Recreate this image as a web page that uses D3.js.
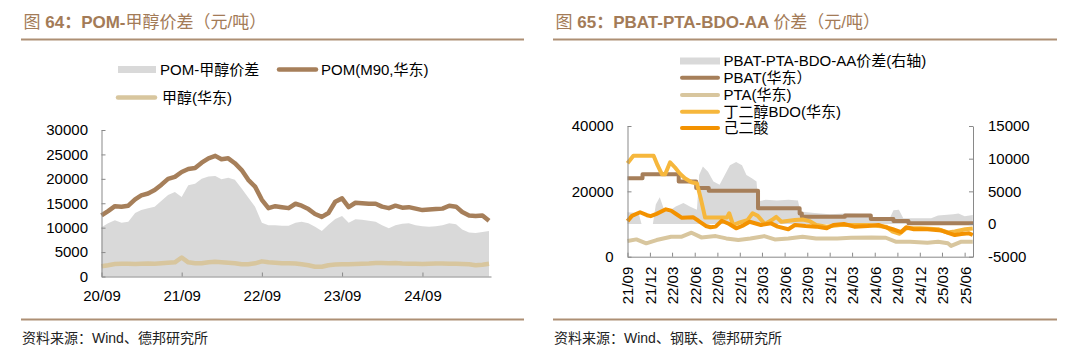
<!DOCTYPE html>
<html>
<head>
<meta charset="utf-8">
<script src="https://cdn.jsdelivr.net/npm/d3@7"></script>
<style>
body { margin: 0; background: #fff; }
svg text { font-family: "Liberation Sans", Arial, "Noto Sans CJK SC", sans-serif; }
</style>
</head>
<body>
<script>
width = 1080
height = 363

// ---- fig 64: POM - methanol, monthly 2020/09 .. 2025/07
const pomMonths = d3.timeMonth.range(new Date(2020, 8, 1), new Date(2025, 7, 1));
const pomPrice = [12500, 13400, 14400, 14300, 14500, 15800, 16600, 17000, 17700, 18800,
                  20000, 20400, 21400, 22000, 22200, 23300, 24200, 24700, 24000, 24200,
                  23200, 21800, 19800, 18400, 15700, 14000, 14400, 14200, 14000, 14900,
                  14500, 13800, 12800, 12200, 13000, 15300, 16000, 14200, 15100, 15000,
                  14900, 14900, 14300, 14000, 14500, 14100, 14200, 13900, 13600, 13700,
                  13800, 13900, 14500, 14300, 13200, 12500, 12400, 12500, 11400];
const methanolPrice = [2100, 2300, 2550, 2600, 2600, 2550, 2600, 2650, 2600, 2700,
                       2800, 2900, 3900, 2900, 2700, 2700, 2900, 3000, 2900, 2800,
                       2700, 2500, 2500, 2700, 3100, 2900, 2800, 2700, 2700, 2650,
                       2500, 2300, 2000, 2000, 2300, 2450, 2500, 2500, 2550, 2600,
                       2650, 2750, 2750, 2700, 2750, 2650, 2600, 2600, 2550, 2600,
                       2650, 2650, 2600, 2600, 2550, 2500, 2300, 2400, 2600];
const pomSpread = [10100, 10900, 11500, 11000, 11200, 13000, 13600, 14000, 14300, 15500,
                   16700, 17300, 16300, 18700, 19000, 20000, 20500, 20600, 19900, 20200,
                   19800, 18000, 16200, 14300, 11000, 10500, 10500, 10400, 10400, 11000,
                   11200, 10900, 10200, 9300, 10600, 11800, 12400, 11000, 11700, 11600,
                   11400, 11200, 10500, 9900, 10500, 10800, 10900, 10500, 10300, 10200,
                   10300, 10500, 10900, 10700, 9600, 9000, 8900, 9100, 9300];
const pomYTicks = [0, 5000, 10000, 15000, 20000, 25000, 30000];
const pomXTicks = ["20/09", "21/09", "22/09", "23/09", "24/09"];

// ---- fig 65: PBAT chain
const pbatDates = ["2021-09-01", "2021-11-01", "2022-03-28", "2022-06-07", "2022-07-28", "2023-02-13",
                   "2023-08-01", "2023-08-10", "2024-02-01", "2024-05-16", "2024-08-16", "2024-10-16", "2025-07-05"];
const pbatPrice = [24000, 25200, 23000, 21000, 20200, 14800, 13200, 12200, 12600, 11500, 10900, 10200, 10200];

const ptaDates = ["2021-09-01", "2021-10-07", "2021-11-16", "2021-12-28", "2022-02-25", "2022-04-07", "2022-05-19",
                  "2022-06-28", "2022-08-25", "2022-10-07", "2022-11-25", "2023-01-13", "2023-03-10", "2023-04-22",
                  "2023-06-16", "2023-08-13", "2023-10-07", "2024-01-01", "2024-02-25", "2024-05-19", "2024-07-16",
                  "2024-08-25", "2024-10-22", "2025-01-01", "2025-02-13", "2025-03-25", "2025-04-07", "2025-05-19", "2025-07-04"];
const ptaPrice = [4800, 5300, 4100, 5100, 6100, 6100, 7350, 5900, 6300, 5600, 5100, 5600, 6300, 5300,
                  5600, 6100, 5600, 5600, 5800, 5900, 5800, 4600, 4600, 4300, 4600, 4100, 3300, 4600, 4600];

const bdoDates = ["2021-09-01", "2021-09-25", "2021-12-16", "2022-01-01", "2022-01-19", "2022-02-01", "2022-02-21",
                  "2022-03-13", "2022-04-01", "2022-04-22", "2022-05-19", "2022-06-10", "2022-06-25", "2022-07-13",
                  "2022-10-10", "2022-10-19", "2022-11-04", "2022-12-01", "2023-01-01", "2023-01-22", "2023-02-12",
                  "2023-03-13", "2023-04-10", "2023-04-28", "2023-05-19", "2023-07-13", "2023-08-13", "2023-09-10",
                  "2023-10-07", "2023-11-19", "2024-01-13", "2024-05-04", "2024-07-16", "2024-08-13", "2024-09-10",
                  "2024-10-07", "2024-12-04", "2025-02-13", "2025-03-25", "2025-04-22", "2025-06-04", "2025-07-04"];
const bdoPrice = [28600, 30900, 30900, 28000, 25200, 25200, 28900, 27300, 25500, 24000, 22800, 22400, 18000, 12000,
                  12000, 13300, 9700, 10500, 11200, 13300, 12500, 10000, 11200, 12200, 10700, 11200, 11400, 10900,
                  9700, 9200, 9700, 9700, 9200, 7650, 7000, 8700, 8700, 8400, 7400, 7700, 8400, 8600];

const aaDates = ["2021-09-01", "2021-09-19", "2021-10-22", "2021-11-19", "2021-12-04", "2021-12-28", "2022-02-04",
                 "2022-02-25", "2022-03-19", "2022-04-10", "2022-05-25", "2022-06-16", "2022-07-16", "2022-08-04",
                 "2022-08-25", "2022-09-19", "2022-10-19", "2022-11-16", "2022-12-16", "2023-01-10", "2023-02-25",
                 "2023-04-07", "2023-05-04", "2023-06-16", "2023-07-13", "2023-08-25", "2023-10-07", "2023-11-19",
                 "2023-12-16", "2024-01-28", "2024-03-10", "2024-05-04", "2024-06-16", "2024-07-16", "2024-08-13",
                 "2024-09-16", "2024-10-07", "2024-11-07", "2025-01-01", "2025-02-28", "2025-04-01", "2025-04-22",
                 "2025-05-19", "2025-06-19", "2025-07-04"];
const aaPrice = [10900, 12500, 13600, 12700, 12400, 13100, 14500, 14100, 13000, 11900, 12100, 11000, 9400, 9000,
                 9200, 11000, 10000, 8700, 9600, 10700, 9700, 10200, 9200, 8400, 9700, 9400, 9200, 8700,
                 9700, 10000, 9200, 9400, 9700, 9000, 8400, 7550, 9000, 8400, 8400, 8000, 7150, 6630,
                 6940, 7150, 6630];

const spreadDates = ["2021-09-01", "2021-10-16", "2021-10-28", "2021-12-13", "2021-12-25", "2022-01-10", "2022-01-25",
                     "2022-02-16", "2022-03-16", "2022-04-16", "2022-05-16", "2022-06-10", "2022-06-19", "2022-07-04",
                     "2022-07-25", "2022-08-16", "2022-09-10", "2022-10-01", "2022-10-22", "2022-11-16", "2022-12-10",
                     "2022-12-28", "2023-01-19", "2023-02-07", "2023-02-13", "2023-03-16", "2023-05-01", "2023-06-16",
                     "2023-07-25", "2023-08-04", "2023-10-01", "2023-12-01", "2024-02-01", "2024-05-10", "2024-05-19",
                     "2024-08-01", "2024-08-16", "2024-09-07", "2024-09-25", "2025-01-16", "2025-02-13", "2025-04-16",
                     "2025-05-07", "2025-06-01", "2025-07-04"];
const spreadValue = [1800, 1700, 0, 0, 3000, 4100, 2500, 2000, 2700, 3200, 2600, 2200, 7500, 8800,
                     8000, 6500, 6000, 7500, 9000, 9500, 9000, 7500, 7000, 6500, 3500, 3700, 3600, 3700,
                     3600, 1900, 1700, 1500, 1600, 1500, 900, 900, 2100, 2200, 900, 900, 1300, 1500,
                     1600, 1200, 1400];
const pbatLeftTicks = [0, 20000, 40000];
const pbatRightTicks = [-5000, 0, 5000, 10000, 15000];
const pbatXTicks = ["21/09", "21/12", "22/03", "22/06", "22/09", "22/12", "23/03", "23/06",
                    "23/09", "23/12", "24/03", "24/06", "24/09", "24/12", "25/03", "25/06"];

const brown = "#a67f5a", beige = "#d8c69e", gray = "#d9d9d9", bdoCol = "#f6b73c", aaCol = "#f39200";
const titleCol = "#a37b57", ruleCol = "#ad8f74", axisCol = "#898989";

const parseDay = d3.timeParse("%Y-%m-%d");
const parseTick = d3.timeParse("%y/%m");

const svg = d3.select("body")
  .append("svg")
    .attr("width", width)
    .attr("height", height);

// titles, rules, sources
function header(x0, x1, parts) {
  const t = svg.append("text")
      .attr("x", x0 + 2.5)
      .attr("y", 28)
      .attr("fill", titleCol)
      .attr("font-size", 17);
  parts.forEach(p => t.append("tspan").attr("font-weight", p[1] ? "bold" : "normal").text(p[0]));
  svg.append("line")
      .attr("x1", x0).attr("x2", x1)
      .attr("y1", 39.5).attr("y2", 39.5)
      .attr("stroke", ruleCol).attr("stroke-width", 2);
  svg.append("line")
      .attr("x1", x0).attr("x2", x1)
      .attr("y1", 319.5).attr("y2", 319.5)
      .attr("stroke", ruleCol).attr("stroke-width", 2);
}
header(21, 524, [["图 ", false], ["64：POM-", true], ["甲醇价差（元/吨）", false]]);
header(553, 1057, [["图 ", false], ["65：PBAT-PTA-BDO-AA ", true], ["价差（元/吨）", false]]);

svg.append("text").attr("x", 22).attr("y", 342.5).attr("font-size", 14).attr("fill", "#222")
   .text("资料来源：Wind、德邦研究所");
svg.append("text").attr("x", 554).attr("y", 342.5).attr("font-size", 14).attr("fill", "#222")
   .text("资料来源：Wind、钢联、德邦研究所");

function styleAxis(g) {
  g.select(".domain").attr("stroke", axisCol);
  g.selectAll(".tick line").attr("stroke", axisCol);
  g.selectAll("text").attr("font-size", 15).attr("fill", "#000")
   .attr("font-family", null);
  g.attr("font-family", null);
}

// ================= left chart =================
const x1 = d3.scaleTime()
  .domain([new Date(2020, 8, 1), new Date(2025, 6, 10)])
  .range([101.5, 491]);
const y1 = d3.scaleLinear().domain([0, 30000]).range([276.5, 130]);

const left = svg.append("g");

left.append("path")
  .datum(pomMonths.map((d, i) => [d, pomSpread[i]]))
  .attr("fill", gray)
  .attr("d", d3.area().x(d => x1(d[0])).y0(y1(0)).y1(d => y1(d[1])));

left.append("path")
  .datum(pomMonths.map((d, i) => [d, pomPrice[i]]))
  .attr("fill", "none").attr("stroke", brown).attr("stroke-width", 4.5)
  .attr("stroke-linejoin", "round")
  .attr("d", d3.line().x(d => x1(d[0])).y(d => y1(d[1])));

left.append("path")
  .datum(pomMonths.map((d, i) => [d, methanolPrice[i]]))
  .attr("fill", "none").attr("stroke", beige).attr("stroke-width", 4.5)
  .attr("stroke-linejoin", "round")
  .attr("d", d3.line().x(d => x1(d[0])).y(d => y1(d[1])));

left.append("g")
  .attr("transform", "translate(101.5,0)")
  .call(d3.axisLeft(y1).tickValues(pomYTicks).tickSize(-4).tickSizeOuter(0).tickPadding(13.5).tickFormat(d => d))
  .call(styleAxis);

left.append("g")
  .attr("transform", "translate(0,276.5)")
  .call(d3.axisBottom(x1).tickValues(pomXTicks.map(parseTick)).tickSize(-4).tickSizeOuter(0)
        .tickPadding(13.5).tickFormat(d3.timeFormat("%y/%m")))
  .call(styleAxis);

// legend
const lg1 = svg.append("g").attr("font-size", 15);
lg1.append("rect").attr("x", 118).attr("y", 66).attr("width", 38).attr("height", 7).attr("fill", gray);
lg1.append("text").attr("x", 160).attr("y", 74.5).text("POM-甲醇价差");
lg1.append("line").attr("x1", 279).attr("x2", 316).attr("y1", 69.5).attr("y2", 69.5)
   .attr("stroke", brown).attr("stroke-width", 4.5).attr("stroke-linecap", "round");
lg1.append("text").attr("x", 321).attr("y", 74.5).text("POM(M90,华东)");
lg1.append("line").attr("x1", 118).attr("x2", 155).attr("y1", 97.5).attr("y2", 97.5)
   .attr("stroke", beige).attr("stroke-width", 4.5).attr("stroke-linecap", "round");
lg1.append("text").attr("x", 162).attr("y", 102.5).text("甲醇(华东)");

// ================= right chart =================
const x2 = d3.scaleTime()
  .domain([new Date(2021, 8, 1), new Date(2025, 6, 5)])
  .range([627.5, 973]);
const yL = d3.scaleLinear().domain([0, 40000]).range([256.7, 126]);
const yR = d3.scaleLinear().domain([-5000, 15000]).range([256.7, 126]);

const right = svg.append("g");

right.append("path")
  .datum(spreadDates.map((d, i) => [parseDay(d), spreadValue[i]]))
  .attr("fill", gray)
  .attr("d", d3.area().x(d => x2(d[0])).y0(yR(0)).y1(d => yR(d[1])));

function seriesLine(dates, vals, col, curve) {
  right.append("path")
    .datum(dates.map((d, i) => [parseDay(d), vals[i]]))
    .attr("fill", "none").attr("stroke", col).attr("stroke-width", 4)
    .attr("stroke-linejoin", "round")
    .attr("d", d3.line().curve(curve || d3.curveLinear).x(d => x2(d[0])).y(d => yL(d[1])));
}
seriesLine(pbatDates, pbatPrice, brown, d3.curveStepAfter);
seriesLine(ptaDates, ptaPrice, beige);
seriesLine(bdoDates, bdoPrice, bdoCol);
seriesLine(aaDates, aaPrice, aaCol);

right.append("g")
  .attr("transform", "translate(627.5,0)")
  .call(d3.axisLeft(yL).tickValues(pbatLeftTicks).tickSize(-4).tickSizeOuter(0).tickPadding(14).tickFormat(d => d))
  .call(styleAxis);

right.append("g")
  .attr("transform", "translate(973,0)")
  .call(d3.axisRight(yR).tickValues(pbatRightTicks).tickSize(-4).tickSizeOuter(0).tickPadding(15).tickFormat(d => d))
  .call(styleAxis);

right.append("g")
  .attr("transform", "translate(0,256.7)")
  .call(d3.axisBottom(x2).tickValues(pbatXTicks.map(parseTick)).tickSize(-4).tickSizeOuter(0)
        .tickFormat(d3.timeFormat("%y/%m")))
  .call(styleAxis)
  .selectAll(".tick text")
    .attr("transform", "rotate(-90)")
    .attr("text-anchor", "end")
    .attr("x", -10)
    .attr("y", 0)
    .attr("dy", "0.36em");

// legend
const lg2 = svg.append("g").attr("font-size", 15);
const lg2Rows = [61, 77.7, 95, 111.7, 128];
lg2.append("rect").attr("x", 680).attr("y", lg2Rows[0] - 3.5).attr("width", 40).attr("height", 7).attr("fill", gray);
lg2.append("text").attr("x", 723.5).attr("y", lg2Rows[0] + 5.3).text("PBAT-PTA-BDO-AA价差(右轴)");
[[brown, "PBAT(华东）"], [beige, "PTA(华东)"], [bdoCol, "丁二醇BDO(华东)"], [aaCol, "己二酸"]].forEach((d, i) => {
  const yy = lg2Rows[i + 1];
  lg2.append("line").attr("x1", 682).attr("x2", 718).attr("y1", yy).attr("y2", yy)
     .attr("stroke", d[0]).attr("stroke-width", 4).attr("stroke-linecap", "round");
  lg2.append("text").attr("x", 723.5).attr("y", yy + 5.3).text(d[1]);
});
</script>
</body>
</html>
